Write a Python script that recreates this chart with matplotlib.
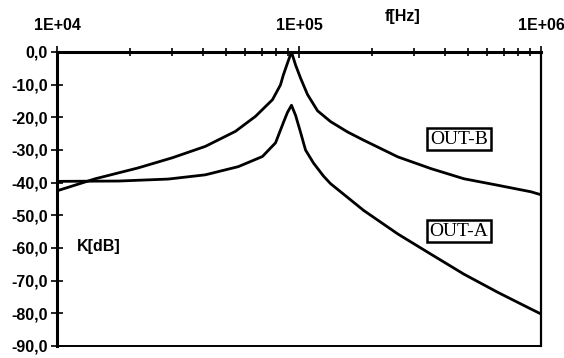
import numpy as np
import matplotlib
matplotlib.use("Agg")
import matplotlib.pyplot as plt
from matplotlib.font_manager import FontProperties
from matplotlib.ticker import LogLocator, FixedLocator, FuncFormatter

# OUT-B curve (Hz, dB)
freq_b = [1e4, 1.44e4, 2.16e4, 2.99e4, 4.1e4, 5.46e4, 6.61e4, 7.77e4, 8.38e4,
          8.62e4, 9.0e4, 9.31e4, 9.68e4, 1.015e5, 1.084e5, 1.193e5, 1.35e5,
          1.589e5, 1.85e5, 2.56e5, 3.51e5, 4.8e5, 6.64e5, 9.1e5, 1e6]
out_b = [-42.5, -38.8, -35.5, -32.4, -28.9, -24.3, -19.7, -14.6, -10.1,
         -7.0, -3.0, 0.0, -4.0, -8.0, -13.0, -18.0, -21.3,
         -24.5, -27.0, -32.1, -35.7, -38.8, -40.8, -42.8, -43.7]
# OUT-A curve (Hz, dB)
freq_a = [1e4, 1.8e4, 2.88e4, 4.1e4, 5.61e4, 7.06e4, 8.0e4, 8.63e4, 8.96e4,
          9.31e4, 9.68e4, 1.015e5, 1.064e5, 1.148e5, 1.263e5, 1.35e5, 1.85e5,
          2.56e5, 3.51e5, 4.8e5, 6.64e5, 9.1e5, 1e6]
out_a = [-39.6, -39.5, -38.9, -37.6, -35.1, -32.0, -27.8, -21.5, -18.5,
         -16.3, -19.4, -24.6, -30.0, -34.0, -38.0, -40.3, -48.5,
         -55.7, -61.9, -68.0, -73.6, -78.7, -80.2]
y_ticks = [0, -10, -20, -30, -40, -50, -60, -70, -80, -90]
x_major = [1e4, 1e5, 1e6]

label_font = dict(family="Liberation Sans", weight="bold", size=11.5)

fig = plt.figure(figsize=(5.64, 3.58), dpi=100)
ax = fig.add_axes([57 / 564, 1 - 346 / 358, 484 / 564, 294 / 358])

ax.plot(freq_b, out_b, color="black", lw=2.0)
ax.plot(freq_a, out_a, color="black", lw=2.0)

ax.set_xscale("log")
ax.set_xlim(1e4, 1e6)
ax.set_ylim(-90, 0)

# x axis on top
ax.xaxis.tick_top()
ax.xaxis.set_major_locator(FixedLocator(x_major))
ax.xaxis.set_minor_locator(LogLocator(base=10, subs=np.arange(2, 10)))
ax.xaxis.set_major_formatter(FuncFormatter(lambda v, p: "1E+%02d" % round(np.log10(v))))
ax.xaxis.set_minor_formatter(FuncFormatter(lambda v, p: ""))
ax.tick_params(axis="x", which="both", direction="inout", length=6, width=1.2,
               pad=9, colors="black")
ax.tick_params(axis="x", which="major", length=9)

ax.yaxis.set_major_locator(FixedLocator(y_ticks))
ax.yaxis.set_major_formatter(FuncFormatter(lambda v, p: ("%.1f" % v).replace(".", ",")))
ax.tick_params(axis="y", direction="inout", length=9, width=1.2, pad=2)

for lab in ax.get_xticklabels() + ax.get_yticklabels():
    lab.set_fontproperties(FontProperties(**label_font))

ax.spines["top"].set_linewidth(2.2)
ax.spines["left"].set_linewidth(2.2)
ax.spines["right"].set_linewidth(1.6)
ax.spines["bottom"].set_linewidth(1.4)

# Axis titles placed as in the original
fig.text(403 / 564, 1 - 17 / 358, "f[Hz]", ha="center", va="center", **label_font)
fig.text(77 / 564, 1 - 247 / 358, "K[dB]", ha="left", va="center", **label_font)

box = dict(boxstyle="square,pad=0.15", fc="white", ec="black", lw=1.8)
fig.text(459 / 564, 1 - 139 / 358, "OUT-B", ha="center", va="center",
         family="Liberation Serif", size=14, bbox=box)
fig.text(459 / 564, 1 - 231 / 358, "OUT-A", ha="center", va="center",
         family="Liberation Serif", size=14, bbox=box)

fig.savefig("out.png", dpi=100)
